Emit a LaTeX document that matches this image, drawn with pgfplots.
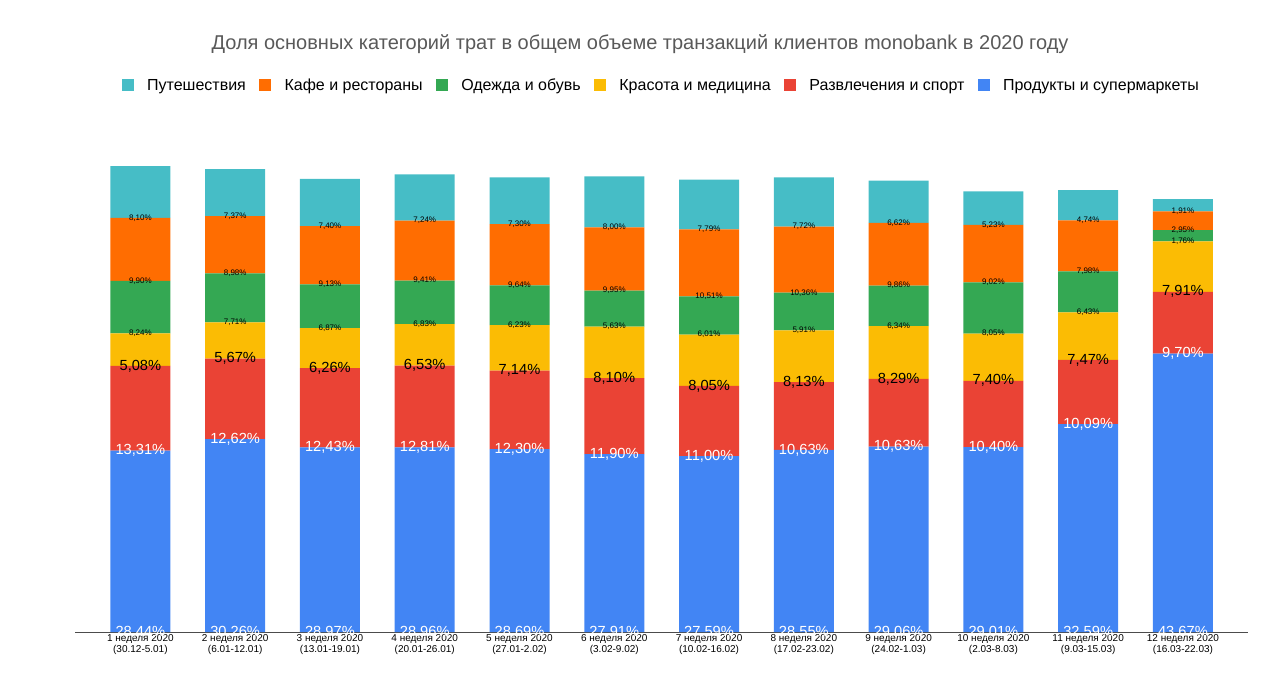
\documentclass[border=0pt]{standalone}
\usepackage{pgfplots}
\pgfplotsset{compat=1.18}
\usepackage{pgfplotstable}
\usepackage{fontspec}
\setmainfont{Liberation Sans}
\definecolor{cblue}{HTML}{4285F4}
\definecolor{cred}{HTML}{EA4335}
\definecolor{cyel}{HTML}{FBBC04}
\definecolor{cgreen}{HTML}{34A853}
\definecolor{corange}{HTML}{FF6D01}
\definecolor{cteal}{HTML}{46BDC6}
\pgfplotstableread{
x y
0 28.44
1 30.26
2 28.97
3 28.96
4 28.69
5 27.91
6 27.59
7 28.55
8 29.06
9 29.01
10 32.59
11 43.67
}\tabprod
\pgfplotstableread{
x y
0 13.31
1 12.62
2 12.43
3 12.81
4 12.30
5 11.90
6 11.00
7 10.63
8 10.63
9 10.40
10 10.09
11 9.70
}\tabrazv
\pgfplotstableread{
x y
0 5.08
1 5.67
2 6.26
3 6.53
4 7.14
5 8.10
6 8.05
7 8.13
8 8.29
9 7.40
10 7.47
11 7.91
}\tabkras
\pgfplotstableread{
x y
0 8.24
1 7.71
2 6.87
3 6.83
4 6.23
5 5.63
6 6.01
7 5.91
8 6.34
9 8.05
10 6.43
11 1.76
}\tabodez
\pgfplotstableread{
x y
0 9.90
1 8.98
2 9.13
3 9.41
4 9.64
5 9.95
6 10.51
7 10.36
8 9.86
9 9.02
10 7.98
11 2.95
}\tabkafe
\pgfplotstableread{
x y
0 8.10
1 7.37
2 7.40
3 7.24
4 7.30
5 8.00
6 7.79
7 7.72
8 6.62
9 5.23
10 4.74
11 1.91
}\tabputs
\begin{document}
\begin{tikzpicture}
\useasboundingbox (-56.25pt,-40.5pt) rectangle (903.75pt,474pt);
\begin{axis}[
  at={(0,0)}, anchor=south west,
  scale only axis, width=880pt, height=382.5pt,
  ybar stacked, bar width=45pt,
  xmin=-0.69, xmax=11.69, ymin=0, ymax=80,
  ytick={0,20,40,60,80},
  yticklabel={\pgfmathprintnumber[fixed,fixed zerofill,precision=2,use comma]{\tick}\%},
  /pgf/number format/assume math mode=true,
  yticklabel style={font=\fontsize{7.5}{9}\selectfont, color=black!80},
  ymajorgrids, grid style={black!15},
  axis x line*=bottom, axis y line=none,
  x axis line style={black!70},
  xtick={0,...,11}, major tick length=0pt,
  xticklabels={{1 неделя 2020\\(30.12-5.01)},{2 неделя 2020\\(6.01-12.01)},{3 неделя 2020\\(13.01-19.01)},{4 неделя 2020\\(20.01-26.01)},{5 неделя 2020\\(27.01-2.02)},{6 неделя 2020\\(3.02-9.02)},{7 неделя 2020\\(10.02-16.02)},{8 неделя 2020\\(17.02-23.02)},{9 неделя 2020\\(24.02-1.03)},{10 неделя 2020\\(2.03-8.03)},{11 неделя 2020\\(9.03-15.03)},{12 неделя 2020\\(16.03-22.03)}},
  xticklabel style={align=center, font=\fontsize{7.5}{8.5}\selectfont, yshift=2pt},
  legend columns=6, reverse legend,
  legend style={at={(0.5,1)}, anchor=center, yshift=27pt, draw=none, font=\fontsize{12}{14}\selectfont, column sep=8pt},
  legend image code/.code={\fill[#1] (0pt,-4pt) rectangle (9pt,5pt);},
  point meta=explicit,
  visualization depends on={\thisrow{y} \as \rawy},
  nodes near coords={\pgfmathprintnumber[fixed,fixed zerofill,precision=2,use comma]{\pgfplotspointmeta}\%},
  every node near coord/.append style={anchor=center, shift={(axis direction cs:0,-\rawy/2)}},
  big/.style={every node near coord/.append style={font=\fontsize{11}{12}\selectfont}},
  small/.style={every node near coord/.append style={font=\fontsize{6}{7}\selectfont, color=black}},
]
\addplot[fill=cblue, draw=none, big, every node near coord/.append style={color=white}] table[x=x,y=y,meta=y]{\tabprod};
\addlegendentry{Продукты и супермаркеты}
\addplot[fill=cred, draw=none, big, every node near coord/.append style={color=white}] table[x=x,y=y,meta=y]{\tabrazv};
\addlegendentry{Развлечения и спорт}
\addplot[fill=cyel, draw=none, big, every node near coord/.append style={color=black}] table[x=x,y=y,meta=y]{\tabkras};
\addlegendentry{Красота и медицина}
\addplot[fill=cgreen, draw=none, small] table[x=x,y=y,meta=y]{\tabodez};
\addlegendentry{Одежда и обувь}
\addplot[fill=corange, draw=none, small] table[x=x,y=y,meta=y]{\tabkafe};
\addlegendentry{Кафе и рестораны}
\addplot[fill=cteal, draw=none, small] table[x=x,y=y,meta=y]{\tabputs};
\addlegendentry{Путешествия}
\end{axis}
\node[font=\fontsize{15}{18}\selectfont, color=black!65] at (423.75pt,441pt) {Доля основных категорий трат в общем объеме транзакций клиентов monobank в 2020 году};
\end{tikzpicture}
\end{document}
